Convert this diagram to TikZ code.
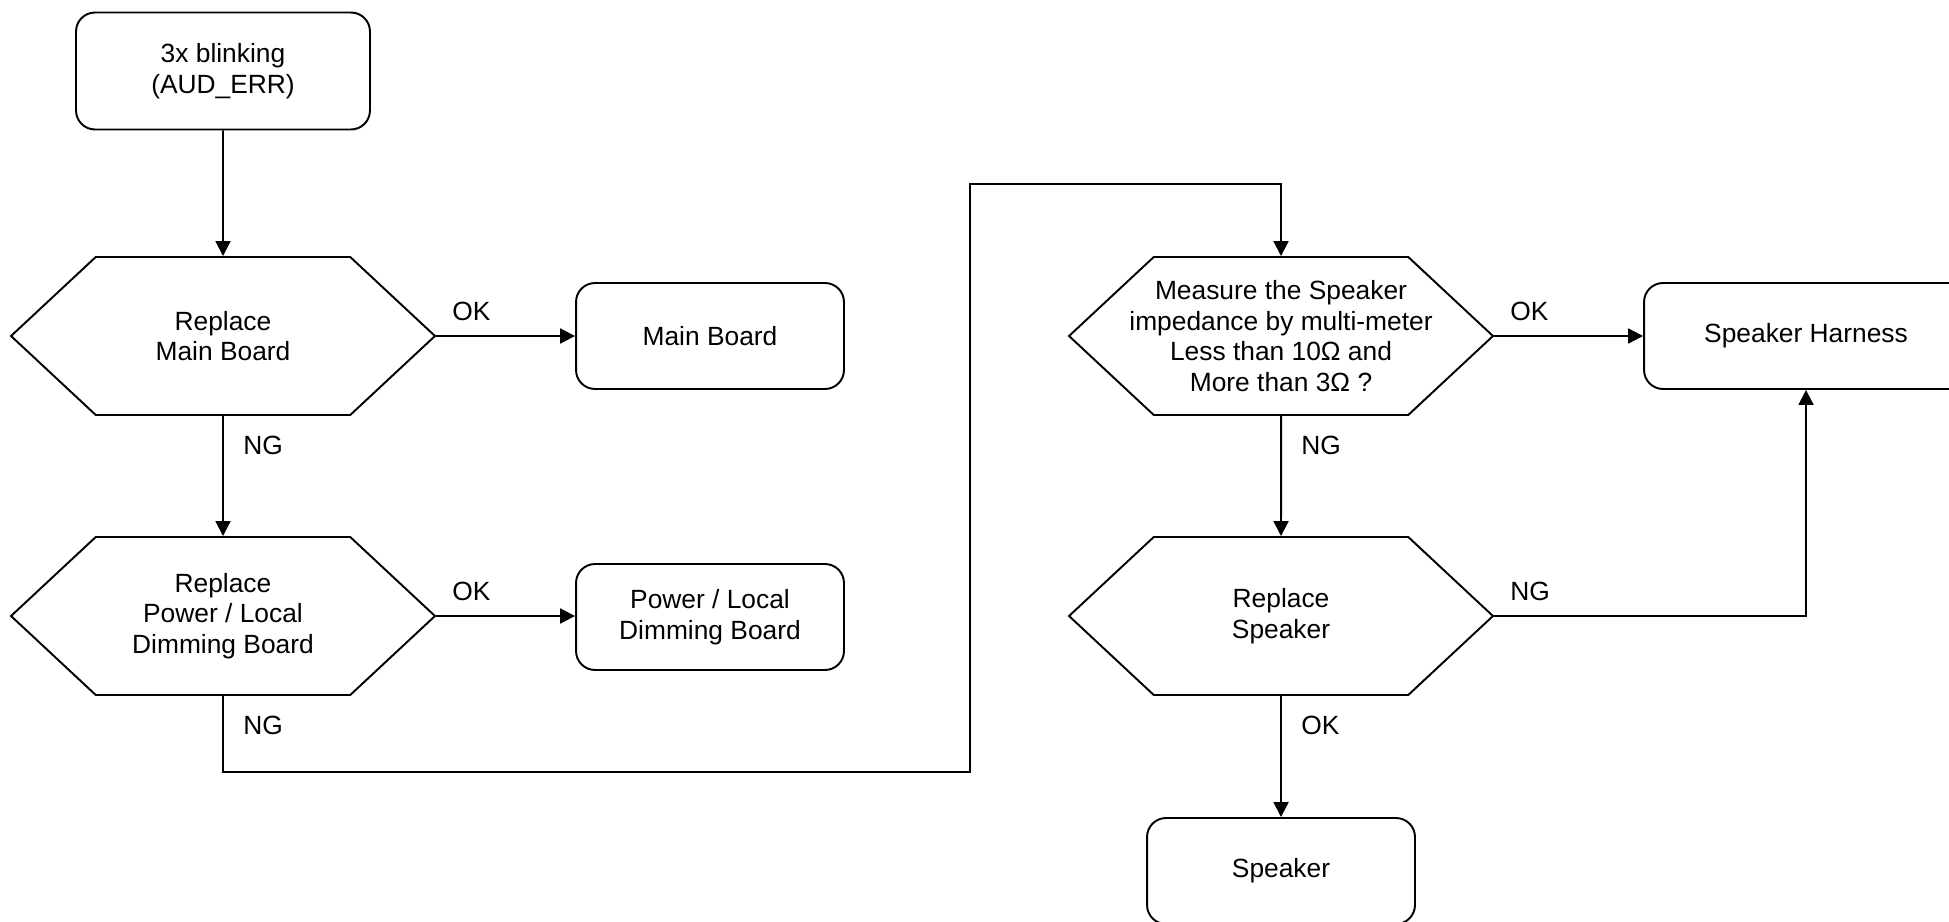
\documentclass[tikz,border=0pt]{standalone}
\usepackage{fontspec}
\setmainfont{Liberation Sans}
\usetikzlibrary{shapes.symbols}
\usetikzlibrary{arrows.meta}

\tikzset{
  box/.style={draw,rectangle,rounded corners=0.38cm,line width=1.1pt,align=center,minimum width=5.36cm,minimum height=2.12cm},
  hexbox/.style={draw,signal,signal to=west and east,signal pointer angle=86,line width=1.1pt,align=center,minimum width=8.48cm,minimum height=3.16cm},
  flow/.style={line width=1.1pt,-{Triangle[length=8.5pt,width=8.5pt]}},
  okside/.style={inner sep=0pt,pos=0,anchor=south west,xshift=8.5pt,yshift=8pt},
  ngdown/.style={inner sep=0pt,pos=0,anchor=north west,xshift=11pt,yshift=-11pt}
}

\begin{document}
\begin{tikzpicture}[x=0.02cm,y=-0.02cm,font=\fontsize{15}{17.5}\selectfont]
\useasboundingbox (0,0) rectangle (1949,922);
\clip (0,0) rectangle (1949,922);
% left column
\node[box,minimum width=5.88cm,minimum height=2.34cm] (blink) at (223,71) {3x blinking\\(AUD\_ERR)};
\node[hexbox] (mainq) at (223,336) {Replace\\Main Board};
\node[box] (main) at (710,336) {Main Board};
\node[hexbox] (powq) at (223,616) {Replace\\Power / Local\\Dimming Board};
\node[box] (pow) at (710,617) {Power / Local\\Dimming Board};
% right column
\node[hexbox,inner xsep=-15pt] (spkq) at (1281,336) {Measure the Speaker\\impedance by multi-meter\\Less than 10Ω and\\More than 3Ω ?};
\node[box,minimum width=6.48cm] (harn) at (1806,336) {Speaker Harness};
\node[hexbox] (spkr) at (1281,616) {Replace\\Speaker};
\node[box] (spk) at (1281,871) {Speaker};
\coordinate (low) at (223,772);
\coordinate (high) at (970,184);

\draw[flow] (blink) -- (mainq);
\draw[flow] (mainq.east) -- (main) node[okside] {OK};
\draw[flow] (mainq) -- (powq) node[ngdown] {NG};
\draw[flow] (powq.east) -- (pow.west |- powq.east) node[okside] {OK};
\draw[flow] (powq.south) -- (low) node[ngdown] {NG} -| (high) -| (spkq.north);
\draw[flow] (spkq.east) -- (harn) node[okside] {OK};
\draw[flow] (spkq) -- (spkr) node[ngdown] {NG};
\draw[flow] (spkr.east) -| (harn.south) node[okside] {NG};
\draw[flow] (spkr) -- (spk) node[ngdown] {OK};
\end{tikzpicture}
\end{document}
